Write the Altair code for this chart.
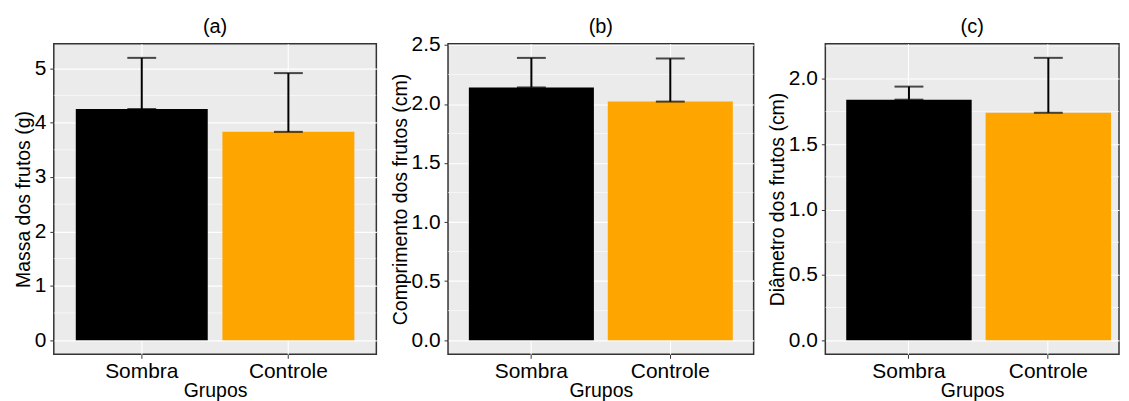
import altair as alt
import pandas as pd

grupos = ["Sombra", "Controle"]
cores = ["#000000", "#FFA500"]

massa_media = [4.25, 3.83]
massa_topo = [5.19, 4.91]
comp_media = [2.14, 2.02]
comp_topo = [2.39, 2.385]
diam_media = [1.84, 1.74]
diam_topo = [1.94, 2.16]

ticks_a = [0, 1, 2, 3, 4, 5]
ticks_b = [0.0, 0.5, 1.0, 1.5, 2.0, 2.5]
ticks_c = [0.0, 0.5, 1.0, 1.5, 2.0]
minor_a = [0.5, 1.5, 2.5, 3.5, 4.5]
minor_b = [0.25, 0.75, 1.25, 1.75, 2.25]
minor_c = [0.25, 0.75, 1.25, 1.75, 2.25]

FONT = "Liberation Sans"


def painel(titulo, ytitulo, media, topo, dominio, ticks, minors, fmt, largura, dy=0,
           pad_outer=0.15, align=0.5):
    df = pd.DataFrame({"Grupo": grupos, "media": media, "topo": topo})
    dm = pd.DataFrame({"m": minors})
    yscale = alt.Scale(domain=dominio, nice=False, zero=False)
    yaxis = alt.Axis(values=ticks, format=fmt, labelPadding=4, titlePadding=1)
    xenc = alt.X("Grupo:N", sort=grupos, title="Grupos",
                 scale=alt.Scale(paddingInner=0.1, paddingOuter=pad_outer, align=align),
                 axis=alt.Axis(labelAngle=0, bandPosition=0.5, labelPadding=2, titlePadding=0))

    def yenc(campo):
        return alt.Y(campo, title=ytitulo, scale=yscale, axis=yaxis)

    base = alt.Chart(df)
    minor = alt.Chart(dm).mark_rule(color="white", strokeWidth=0.6).encode(y=yenc("m:Q"))
    barras = base.mark_bar().encode(
        x=xenc, y=yenc("media:Q"),
        color=alt.Color("Grupo:N", scale=alt.Scale(domain=grupos, range=cores), legend=None),
    )
    haste = base.mark_rule(color="black", strokeWidth=2).encode(
        x=xenc, y=yenc("media:Q"), y2="topo:Q")
    cap_sup = base.mark_tick(color="black", thickness=2, size=29).encode(x=xenc, y=yenc("topo:Q"))
    cap_inf = base.mark_tick(color="black", thickness=2, size=29).encode(x=xenc, y=yenc("media:Q"))
    return alt.layer(minor, barras, haste, cap_sup, cap_inf).properties(
        width=largura, height=312,
        title=alt.TitleParams(titulo, frame="group", anchor="middle", offset=7, dy=dy),
    )


pa = painel("(a)", "Massa dos frutos (g)", massa_media, massa_topo, [-0.26, 5.45],
            ticks_a, minor_a, "d", 324)
pb = painel("(b)", "Comprimento dos frutos (cm)", comp_media, comp_topo, [-0.12, 2.51],
            ticks_b, minor_b, ".1f", 307, dy=10)
pc = painel("(c)", "Diâmetro dos frutos (cm)", diam_media, diam_topo, [-0.108, 2.268],
            ticks_c, minor_c, ".1f", 295, pad_outer=0.1036, align=0.724)

chart = alt.hconcat(pa, pb, pc, spacing=72, bounds="flush").properties(
    padding={"left": 4, "top": 7, "right": 0, "bottom": 0}
).configure_view(
    fill="#EBEBEB", stroke="#333333", strokeWidth=1.5
).configure_axis(
    grid=True, gridColor="white", gridWidth=1.1, domain=False,
    tickColor="#333333", tickSize=4, tickWidth=1,
    labelFont=FONT, labelFontSize=21, labelColor="black",
    titleFont=FONT, titleFontSize=19.5, titleColor="black", titleFontWeight="normal",
).configure_title(
    font=FONT, fontSize=20, fontWeight="normal", color="black"
)

chart.save("out.html", embed_options={"renderer": "svg", "actions": False})
